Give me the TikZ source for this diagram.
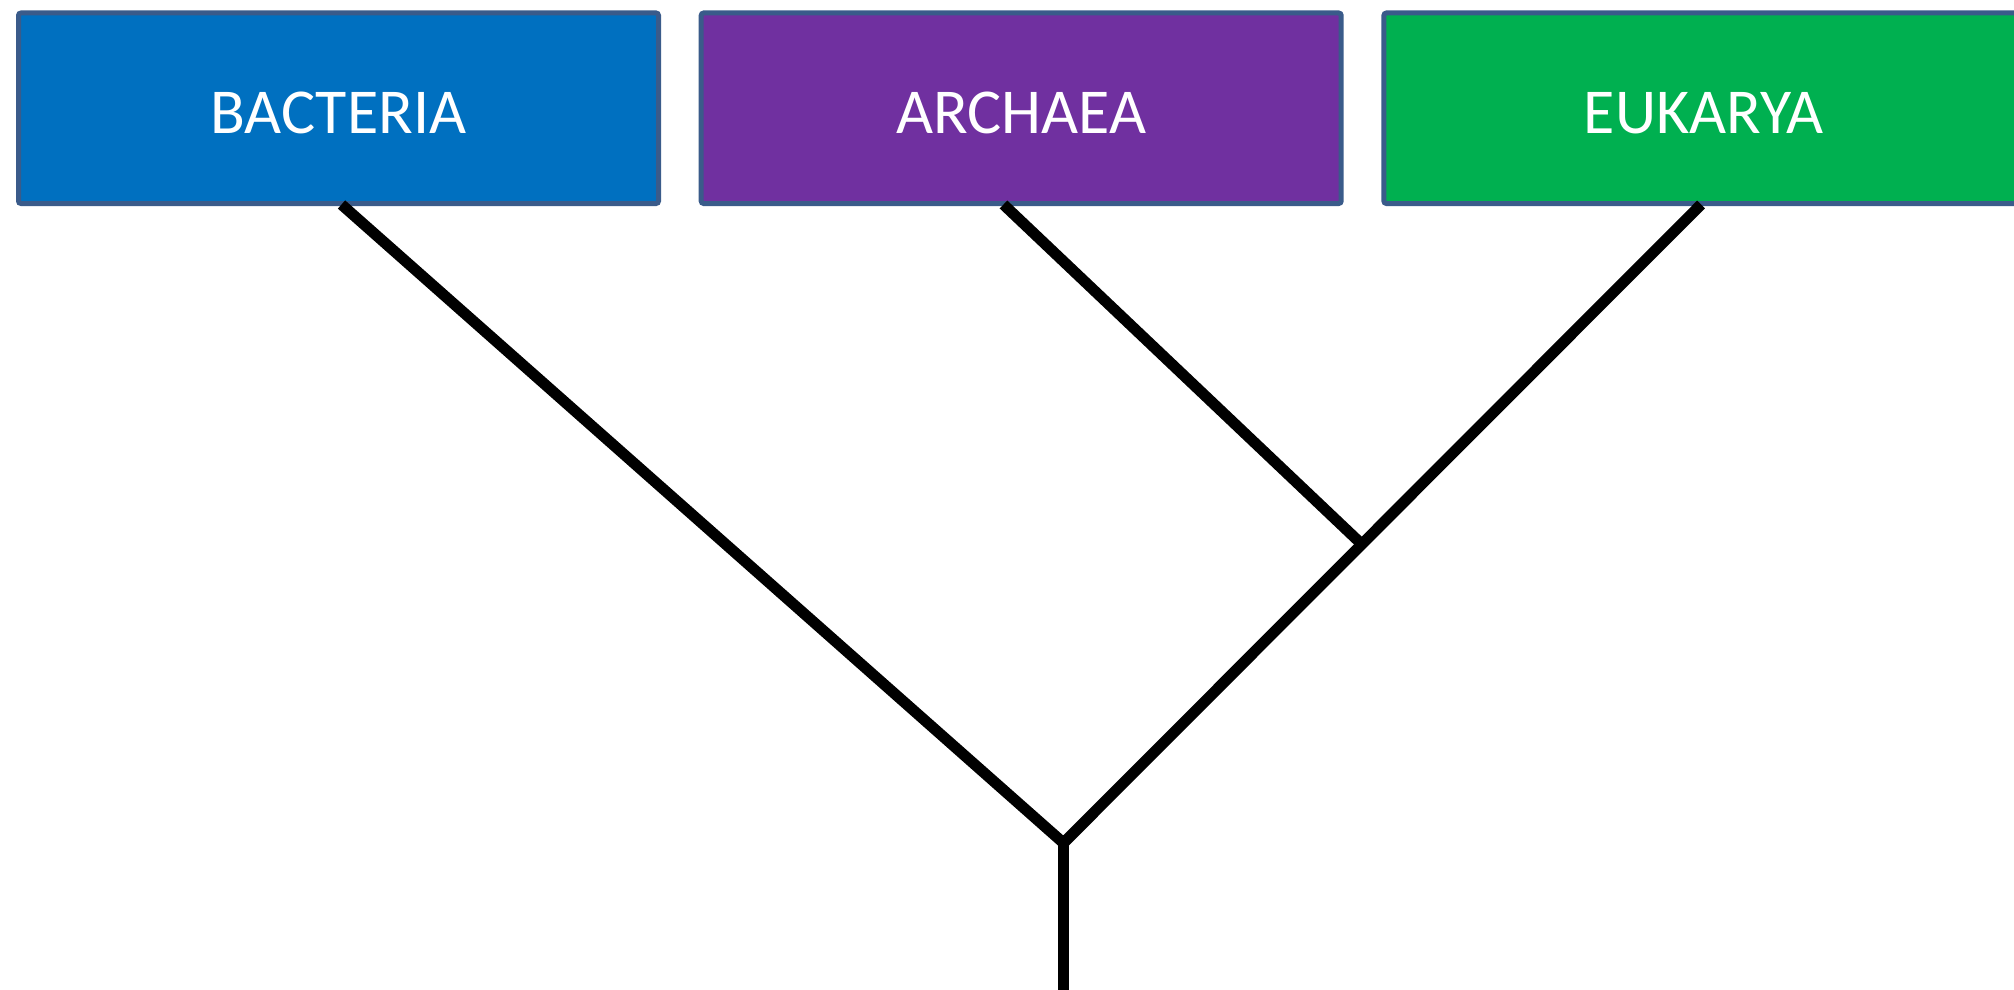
\documentclass[tikz,border=0pt]{standalone}
\usepackage{fontspec}
\setmainfont{Carlito}
\definecolor{bactblue}{HTML}{0070C0}
\definecolor{archpurple}{HTML}{7030A0}
\definecolor{eukgreen}{HTML}{00B050}
\definecolor{boxedge}{HTML}{3A5B8A}
\tikzset{
  domainbox/.style={draw=boxedge, line width=5pt, rounded corners=2.5pt,
    minimum width=640pt, minimum height=190.5pt, inner sep=0pt, outer sep=0pt,
    text=white, text height=50.5pt, text depth=0pt,
    font=\fontsize{64}{76}\selectfont},
  branch/.style={draw=black, line width=11pt, line cap=butt, line join=miter}
}
\begin{document}
\begin{tikzpicture}[x=1pt, y=-1pt]
  \clip (0,0) rectangle (2014,990);
  \fill[white] (0,0) rectangle (2014,990);

  % the three domains
  \node[domainbox, fill=bactblue]   (bact) at (338.5,108.25)  {BACTERIA};
  \node[domainbox, fill=archpurple] (arch) at (1021.2,108.25) {ARCHAEA};
  \node[domainbox, fill=eukgreen]   (euk)  at (1703.9,108.25) {EUKARYA};

  % branch points of the tree
  \coordinate (bacttip) at (341.5,204.5);
  \coordinate (archtip) at (1003.5,204.5);
  \coordinate (euktip)  at (1701,204.5);
  \coordinate (ae)      at (1361,543.5);
  \coordinate (root)    at (1063.5,843);
  \coordinate (base)    at (1063.5,1000);

  \draw[branch] (archtip) -- (ae);
  \draw[branch] (bacttip) -- (root) -- (euktip);
  \draw[branch] (root) -- (base);
\end{tikzpicture}
\end{document}
